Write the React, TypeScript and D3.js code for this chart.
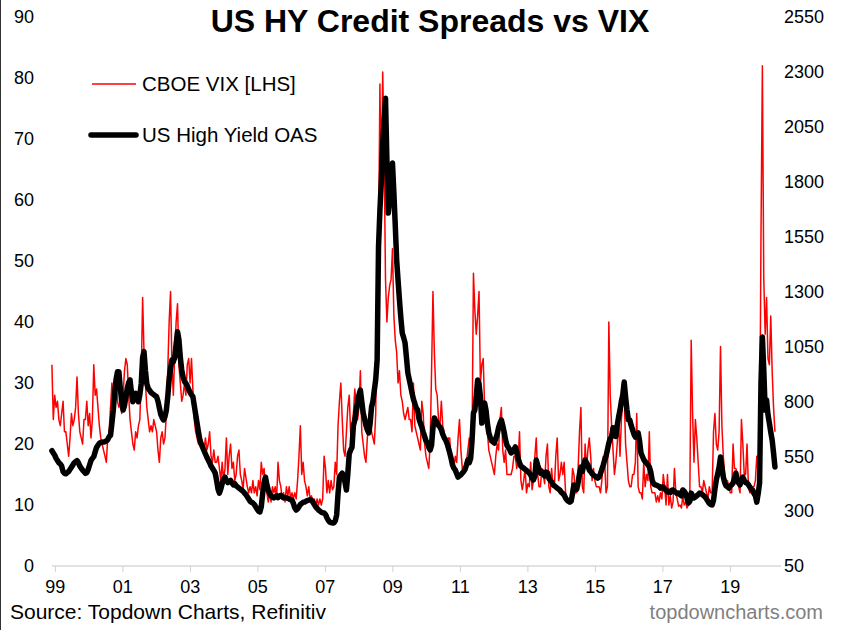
import React from 'react';
import * as d3 from 'd3';

// Semi-monthly samples (two per month), starting January 1999
const START_YEAR = 1999;
const STEPS_PER_YEAR = 24;

// CBOE VIX [LHS]
const vixByYear: number[][] = [
  [33,24, 28,26, 27,24, 23,25, 27,22, 22,20, 18,21, 25,23, 24,26, 31,25, 22,21, 20,24],
  [24,27, 23,25, 21,24, 33,28, 29,26, 23,21, 20,19, 18,17, 21,22, 26,30, 27,29, 31,27],
  [26,27, 25,28, 32,34, 33,28, 24,22, 20,19, 22,21, 23,24, 31,44, 35,30, 26,24, 22,23],
  [22,24, 23,22, 19,17, 21,22, 20,21, 25,32, 40,45, 33,28, 35,40, 43,33, 30,27, 28,30],
  [28,33, 34,30, 34,29, 24,22, 21,20, 20,21, 20,19, 21,19, 20,22, 18,17, 19,17, 17,18],
  [16,14, 17,14, 16,21, 15,18, 20,16, 17,14, 15,18, 19,15, 14,12.5, 16,14.5, 13,12, 13,12],
  [14,12, 13,11.5, 14,12.5, 17,15, 16,13, 12,10.5, 12,10.5, 13,12, 13,11, 17,14, 13,11, 12,10.5],
  [13,11.5, 13,11, 12,11, 12,11, 14,18, 23,15, 17,14, 13,11.5, 13,11, 11.5,10, 11,9.8, 11,10],
  [11,10, 11,18, 16,12, 14,12, 14,12.5, 13,17, 15,23, 27,30, 24,19, 18,22, 26,28, 22,20],
  [25,29, 26,24, 26,32, 22,20, 18,17, 21,24, 26,22, 21,20, 25,46, 52,79, 60,81, 68,47],
  [40,44, 46,47, 52,41, 37,35, 30,32, 28,27, 25,24, 25,26, 24,24, 22,30, 23,22, 21,20],
  [19,27, 25,20, 18,17, 16,20, 32,45, 35,29, 28,24, 23,27, 23,22, 20,19, 21,21, 17,17],
  [16,18, 17,21, 24,19, 16,15, 16,17, 19,21, 17,20, 48,42, 38,41, 45,30, 33,34, 26,23],
  [22,19, 18,17, 16,15, 18,20, 19,24, 26,19, 17,19, 15,15, 15,15, 16,18, 18,16, 17,22],
  [14,12.5, 14,16, 12,13.5, 13,17, 12.5,14, 18,21, 15,13, 13,16, 15,13.5, 18,20, 13,12, 16,13],
  [13,18, 21,14, 15,17, 15,17, 12,11, 11,11, 11,16, 15,12, 12,16, 22,26, 13,12, 20,16],
  [19,21, 18,14, 16,14, 13,13, 13,12, 14,18, 17,12, 13,40, 28,23, 19,15, 17,20, 24,18],
  [24,27, 28,20, 17,14, 13,13, 15,15, 17,25, 13,12, 12,11, 17,13, 15,14, 22,13, 12,12],
  [12,10.5, 11.5,10.5, 12,11, 15,13, 10,15, 10,11.5, 9.5,10.5, 16,12, 11,9.8, 10,9.5, 11.5,10, 10.5,9.5],
  [10,11, 37,25, 17,24, 21,17, 13,13, 12,14, 13,12, 11,13, 12,12, 22,25, 20,19, 22,36],
  [23,18, 15,14, 14,13, 12,12, 20,16, 16,15, 13,12, 24,20, 15,15, 20,13, 12,12, 13,13],
  [14,18, 15,17, 54,82, 47,38, 44,34, 33,41, 32,26, 22],
];

// US High Yield OAS (bp) [RHS]
const oasByYear: number[][] = [
  [575,565, 555,540, 530,520, 515,505, 480,472, 470,475, 480,490, 500,510, 520,525, 530,520, 505,495, 487,480],
  [472,475, 490,510, 530,540, 548,570, 590,600, 609,612, 614,615, 616,620, 625,639, 645,700, 760,840, 900,935],
  [935,860, 800,760, 780,820, 860,885, 897,840, 798,820, 836,815, 798,830, 880,1000, 1026,940, 880,859, 850,840],
  [835,830, 825,821, 800,770, 740,725, 715,730, 760,820, 900,950, 988,980, 1000,1060, 1117,1080, 1000,943, 910,890],
  [882,870, 855,840, 830,821, 780,740, 700,660, 624,605, 590,575, 560,545, 533,520, 505,495, 485,473, 440,400],
  [382,400, 425,445, 455,440, 430,435, 440,428, 420,425, 415,410, 405,400, 395,390, 382,375, 365,355, 345,340],
  [337,330, 320,310, 300,296, 320,380, 430,455, 420,396, 380,370, 364,360, 365,370, 362,368, 372,365, 360,362],
  [360,358, 355,352, 350,335, 315,305, 310,320, 330,335, 340,341, 345,348, 350,352, 350,340, 330,320, 312,305],
  [300,295, 292,291, 285,270, 258,250, 248,246, 246,255, 282,380, 455,465, 473,460, 430,396, 470,560, 578,590],
  [690,715, 760,800, 830,851, 800,747, 720,690, 670,656, 700,774, 800,851, 900,988, 1504,1671, 1800,1976, 2080,2180],
  [1899,1657, 1717,1800, 1885,1749, 1600,1443, 1350,1261, 1180,1111, 1090,1066, 1000,930, 900,870, 838,810, 790,770, 760,720],
  [700,683, 660,640, 620,610, 590,578, 600,680, 724,710, 700,690, 683,670, 650,635, 624,610, 590,565, 540,510],
  [495,487, 470,455, 460,465, 473,480, 490,510, 533,520, 540,620, 747,760, 820,897, 880,820, 701,740, 792,760],
  [700,656, 637,620, 615,610, 630,650, 680,700, 715,690, 660,624, 600,590, 580,565, 570,580, 592,570, 540,520],
  [505,501, 495,490, 485,480, 473,465, 450,442, 460,533, 510,490, 473,480, 470,460, 478,475, 450,440, 433,420],
  [415,410, 405,400, 395,385, 380,373, 360,350, 345,341, 345,380, 419,410, 400,430, 470,501, 480,510, 533,520],
  [510,487, 480,470, 464,460, 455,450, 455,470, 490,510, 533,550, 580,610, 630,640, 680,656, 640,690, 729,760],
  [800,830, 888,820, 760,715, 715,690, 670,650, 637,640, 656,620, 565,550, 535,525, 519,510, 501,480, 442,425],
  [420,419, 415,412, 405,410, 410,400, 395,387, 390,385, 395,396, 390,385, 380,382, 375,370, 396,390, 380,360],
  [337,345, 382,370, 360,364, 370,375, 382,380, 375,370, 364,355, 345,335, 330,328, 350,400, 442,470, 500,546],
  [500,455, 430,415, 410,405, 415,420, 428,450, 473,440, 428,420, 440,455, 440,430, 428,420, 410,400, 396,380],
  [370,341, 380,428, 883,1093, 943,760, 806,740, 701,660, 624,565, 501],
];

const xTickYears = [1999, 2001, 2003, 2005, 2007, 2009, 2011, 2013, 2015, 2017, 2019];
const xTickLabels = ['99', '01', '03', '05', '07', '09', '11', '13', '15', '17', '19'];
const leftTicks = [0, 10, 20, 30, 40, 50, 60, 70, 80, 90];
const rightTicks = [50, 300, 550, 800, 1050, 1300, 1550, 1800, 2050, 2300, 2550];

const FONT = '"Liberation Sans", Arial, Helvetica, sans-serif';

export default function App() {
  const W = 846;
  const H = 630;

  const xAxis = d3.scaleLinear().domain([1998.9, 2020.5]).range([52, 781]);
  const xData = d3.scaleLinear().domain([1999, 2020.6]).range([51.9, 775.5]);
  const yL = d3.scaleLinear().domain([0, 90]).range([566, 17]);
  const yR = d3.scaleLinear().domain([50, 2550]).range([566, 17]);

  const vix = vixByYear.flat();
  const oas = oasByYear.flat();
  const tOf = (i: number) => START_YEAR + i / STEPS_PER_YEAR;

  const vixPath = d3
    .line<number>()
    .x((_, i) => xData(tOf(i)))
    .y((d) => yL(d))(vix) as string;
  const oasPath = d3
    .line<number>()
    .x((_, i) => xData(tOf(i)))
    .y((d) => yR(d))(oas) as string;

  const [x0, x1] = xAxis.range();

  return (
    <svg
      width={W}
      height={H}
      style={{ position: 'absolute', left: 0, top: 0, background: '#fff' }}
      fontFamily={FONT}
    >
      <rect x={0} y={0} width={W} height={H} fill="#fff" />
      <line x1={0.5} y1={0} x2={0.5} y2={H} stroke="#333" strokeWidth={1} />

      <text x={430} y={32} textAnchor="middle" fontSize={32} fontWeight="bold" fill="#000">
        US HY Credit Spreads vs VIX
      </text>

      {leftTicks.map((v) => (
        <text key={'l' + v} x={34} y={yL(v)} dy="0.35em" textAnchor="end" fontSize={18} fill="#000">
          {v}
        </text>
      ))}
      {rightTicks.map((v) => (
        <text key={'r' + v} x={784} y={yR(v)} dy="0.35em" textAnchor="start" fontSize={18} fill="#000">
          {v}
        </text>
      ))}

      <line x1={x0} x2={x1} y1={566} y2={566} stroke="#d9d9d9" strokeWidth={1.5} />
      {xTickYears.map((yr, i) => (
        <g key={'x' + yr}>
          <line x1={xAxis(yr)} x2={xAxis(yr)} y1={566} y2={572} stroke="#d0d0d0" strokeWidth={1} />
          <text x={xAxis(yr)} y={593} textAnchor="middle" fontSize={18} fill="#000">
            {xTickLabels[i]}
          </text>
        </g>
      ))}

      <path d={vixPath} fill="none" stroke="#ff0000" strokeWidth={1.5} strokeLinejoin="round" />
      <path d={oasPath} fill="none" stroke="#000" strokeWidth={5.5} strokeLinejoin="round" strokeLinecap="round" />

      <line x1={92} x2={136} y1={84} y2={84} stroke="#ff0000" strokeWidth={1.5} />
      <text x={142} y={91} fontSize={20.5} fill="#000">CBOE VIX [LHS]</text>
      <line x1={91} x2={136} y1={135} y2={135} stroke="#000" strokeWidth={5.5} strokeLinecap="round" />
      <text x={142} y={142} fontSize={20.5} fill="#000">US High Yield OAS</text>

      <text x={10} y={619} fontSize={21} fill="#000">Source: Topdown Charts, Refinitiv</text>
      <text x={823} y={619} textAnchor="end" fontSize={20} fill="#7f7f7f">topdowncharts.com</text>
    </svg>
  );
}
